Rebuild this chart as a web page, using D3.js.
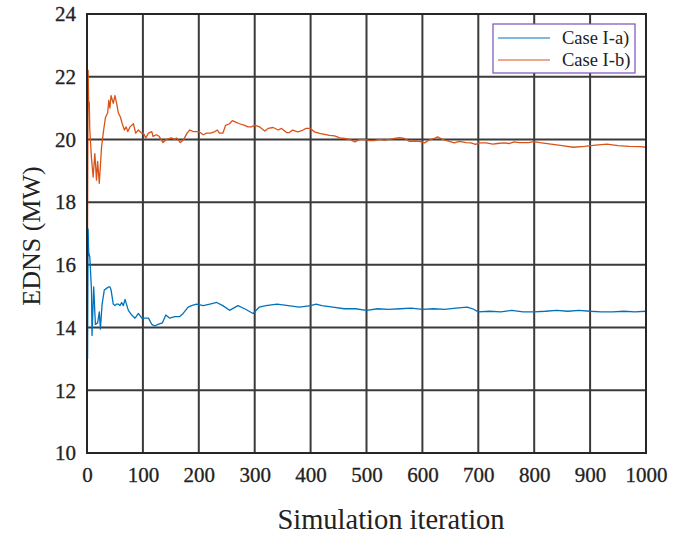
<!DOCTYPE html>
<html>
<head>
<meta charset="utf-8">
<script src="https://cdn.jsdelivr.net/npm/d3@7"></script>
<style>
  body { margin: 0; background: #fff; }
  svg { display: block; }
  text { font-family: 'Liberation Serif', 'DejaVu Serif', serif; fill: #222; }
</style>
</head>
<body>
<div class="chart"></div>
<script>
const svgWidth = 676,
  svgHeight = 536;
const plot = { left: 87, right: 646, top: 14, bottom: 453 };
const serif = "'Liberation Serif', 'DejaVu Serif', serif";

const xTicks = [0, 100, 200, 300, 400, 500, 600, 700, 800, 900, 1000];
const yTicks = [10, 12, 14, 16, 18, 20, 22, 24];
const seriesNames = ['Case I-a)', 'Case I-b)'];
const seriesColors = ['#0072BD', '#D95319'];

// [iteration, EDNS]
const caseA = [
  [1, 13.0], [2, 17.15], [3, 16.4], [5, 16.25], [8, 15.2], [9, 13.75], [12, 15.3],
  [15, 14.1], [19, 14.15], [22, 14.5], [24, 13.95], [27, 14.75], [31, 15.2], [35, 15.25],
  [39, 15.3], [41, 15.3], [43, 15.2], [47, 14.75], [50, 14.7], [53, 14.75], [56, 14.75],
  [59, 14.7], [62, 14.8], [65, 14.7], [68, 14.9], [74, 14.55], [80, 14.4], [86, 14.3],
  [92, 14.45], [98, 14.3], [104, 14.3], [110, 14.3], [116, 14.1], [121, 14.05], [127, 14.1],
  [135, 14.15], [141, 14.4], [148, 14.3], [157, 14.35], [166, 14.35], [172, 14.45],
  [181, 14.65], [187, 14.7], [196, 14.75], [208, 14.7], [220, 14.75], [232, 14.8],
  [243, 14.7], [255, 14.55], [270, 14.7], [282, 14.6], [297, 14.45], [308, 14.65],
  [320, 14.7], [340, 14.75], [360, 14.7], [380, 14.65], [400, 14.7], [410, 14.75],
  [420, 14.7], [440, 14.65], [460, 14.6], [480, 14.6], [500, 14.55], [520, 14.6],
  [540, 14.58], [560, 14.6], [580, 14.62], [600, 14.58], [620, 14.6], [640, 14.58],
  [660, 14.62], [680, 14.65], [690, 14.6], [700, 14.5], [720, 14.52], [740, 14.5],
  [760, 14.55], [780, 14.5], [800, 14.5], [820, 14.52], [840, 14.55], [860, 14.52],
  [880, 14.55], [900, 14.52], [920, 14.5], [940, 14.5], [960, 14.52], [980, 14.5],
  [1000, 14.52]
];

const caseB = [
  [1, 17.15], [2, 22.2], [3, 21.2], [4, 21.2], [5, 20.3], [8, 19.4], [11, 18.8],
  [14, 19.55], [17, 18.7], [19, 19.3], [22, 18.6], [26, 19.75], [29, 20.2], [33, 20.7],
  [37, 20.85], [39, 21.25], [41, 21.0], [43, 21.4], [47, 21.15], [50, 21.4], [53, 21.15],
  [56, 20.85], [60, 20.7], [63, 20.5], [67, 20.3], [70, 20.4], [73, 20.25], [77, 20.4],
  [83, 20.5], [87, 20.2], [92, 20.3], [98, 20.2], [101, 20.2], [105, 20.05], [110, 20.2],
  [116, 20.25], [118, 20.1], [124, 20.15], [129, 20.1], [136, 19.9], [142, 20.0],
  [151, 20.05], [157, 20.0], [160, 20.05], [167, 19.9], [173, 20.0], [179, 20.2],
  [184, 20.3], [190, 20.25], [195, 20.25], [200, 20.25], [208, 20.15], [214, 20.2],
  [221, 20.2], [229, 20.25], [233, 20.3], [237, 20.2], [243, 20.2], [248, 20.45],
  [255, 20.5], [260, 20.6], [266, 20.55], [273, 20.5], [282, 20.45], [288, 20.4],
  [294, 20.4], [300, 20.45], [309, 20.4], [318, 20.27], [324, 20.35], [333, 20.38],
  [342, 20.3], [348, 20.35], [357, 20.22], [362, 20.22], [368, 20.3], [377, 20.24],
  [383, 20.27], [392, 20.35], [400, 20.35], [407, 20.24], [416, 20.19], [425, 20.16],
  [434, 20.13], [443, 20.11], [452, 20.05], [461, 20.03], [470, 20.0], [479, 19.92],
  [488, 20.0], [496, 20.0], [505, 19.96], [514, 19.96], [523, 20.0], [532, 19.98],
  [541, 20.0], [550, 20.03], [559, 20.06], [568, 20.03], [577, 19.94], [586, 19.95],
  [595, 19.94], [604, 19.89], [612, 19.98], [621, 20.03], [627, 20.08], [636, 20.0],
  [645, 19.95], [657, 19.89], [666, 19.94], [678, 19.9], [687, 19.89], [695, 19.84],
  [702, 19.89], [714, 19.89], [726, 19.85], [734, 19.87], [746, 19.89], [755, 19.87],
  [764, 19.92], [773, 19.9], [790, 19.9], [800, 19.93], [810, 19.9], [830, 19.85],
  [850, 19.8], [870, 19.75], [890, 19.78], [910, 19.82], [930, 19.85], [950, 19.8],
  [970, 19.78], [990, 19.77], [1000, 19.75]
];

const svg = d3.select('.chart')
  .append('svg')
  .attr('width', svgWidth)
  .attr('height', svgHeight);

const xScale = d3.scaleLinear()
  .domain([0, 1000])
  .range([plot.left, plot.right]);

const yScale = d3.scaleLinear()
  .domain([10, 24])
  .range([plot.bottom, plot.top]);

// grid
const grid = svg.append('g')
  .attr('stroke', '#3a3a3a')
  .attr('stroke-width', 2);

grid.selectAll('.vgrid')
  .data(xTicks)
  .join('line')
  .attr('x1', d => xScale(d))
  .attr('x2', d => xScale(d))
  .attr('y1', plot.top)
  .attr('y2', plot.bottom);

grid.selectAll('.hgrid')
  .data(yTicks)
  .join('line')
  .attr('x1', plot.left)
  .attr('x2', plot.right)
  .attr('y1', d => yScale(d))
  .attr('y2', d => yScale(d));

// data lines
const line = d3.line()
  .x(d => xScale(d[0]))
  .y(d => yScale(d[1]));

[caseA, caseB].forEach((data, i) => {
  svg.append('path')
    .datum(data)
    .attr('fill', 'none')
    .attr('stroke', seriesColors[i])
    .attr('stroke-width', 1.3)
    .attr('stroke-linejoin', 'round')
    .attr('d', line);
});

// frame
svg.append('rect')
  .attr('x', plot.left)
  .attr('y', plot.top)
  .attr('width', plot.right - plot.left)
  .attr('height', plot.bottom - plot.top)
  .attr('fill', 'none')
  .attr('stroke', '#262626')
  .attr('stroke-width', 2);

// axes
const xAxis = d3.axisBottom(xScale).tickValues(xTicks).tickFormat(d3.format('d')).tickSize(0).tickPadding(14);
const yAxis = d3.axisLeft(yScale).tickValues(yTicks).tickFormat(d3.format('d')).tickSize(0).tickPadding(11);

svg.append('g')
  .attr('transform', `translate(0, ${plot.bottom})`)
  .call(xAxis)
  .attr('font-family', serif)
  .attr('font-size', 21)
  .call(g => g.select('.domain').remove())
  .selectAll('text')
  .style('font-family', serif)
  .style('font-size', '21px')
  .attr('fill', '#222')
  .attr('stroke', '#222')
  .attr('stroke-width', 0.3);

svg.append('g')
  .attr('transform', `translate(${plot.left}, 0)`)
  .call(yAxis)
  .attr('font-family', serif)
  .attr('font-size', 21)
  .call(g => g.select('.domain').remove())
  .selectAll('text')
  .style('font-family', serif)
  .style('font-size', '21px')
  .attr('fill', '#222')
  .attr('stroke', '#222')
  .attr('stroke-width', 0.3);

svg.append('text')
  .attr('x', 391)
  .attr('y', 529)
  .attr('text-anchor', 'middle')
  .style('font-size', '28.5px')
  .text('Simulation iteration');

svg.append('text')
  .attr('transform', 'translate(40, 236) rotate(-90)')
  .attr('text-anchor', 'middle')
  .style('font-size', '26px')
  .text('EDNS (MW)');

// legend
const legend = svg.append('g');

legend.append('rect')
  .attr('x', 493)
  .attr('y', 24)
  .attr('width', 142)
  .attr('height', 49)
  .attr('fill', '#fff')
  .attr('stroke', '#7b4fbd')
  .attr('stroke-width', 1.2);

seriesNames.forEach((name, i) => {
  const y = 38 + i * 22;
  legend.append('line')
    .attr('x1', 498)
    .attr('x2', 550)
    .attr('y1', y)
    .attr('y2', y)
    .attr('stroke', seriesColors[i])
    .attr('stroke-width', 1.2);
  legend.append('text')
    .attr('x', 562)
    .attr('y', y)
    .attr('dy', '0.35em')
    .style('font-size', '18.5px')
    .text(name);
});
</script>
</body>
</html>
